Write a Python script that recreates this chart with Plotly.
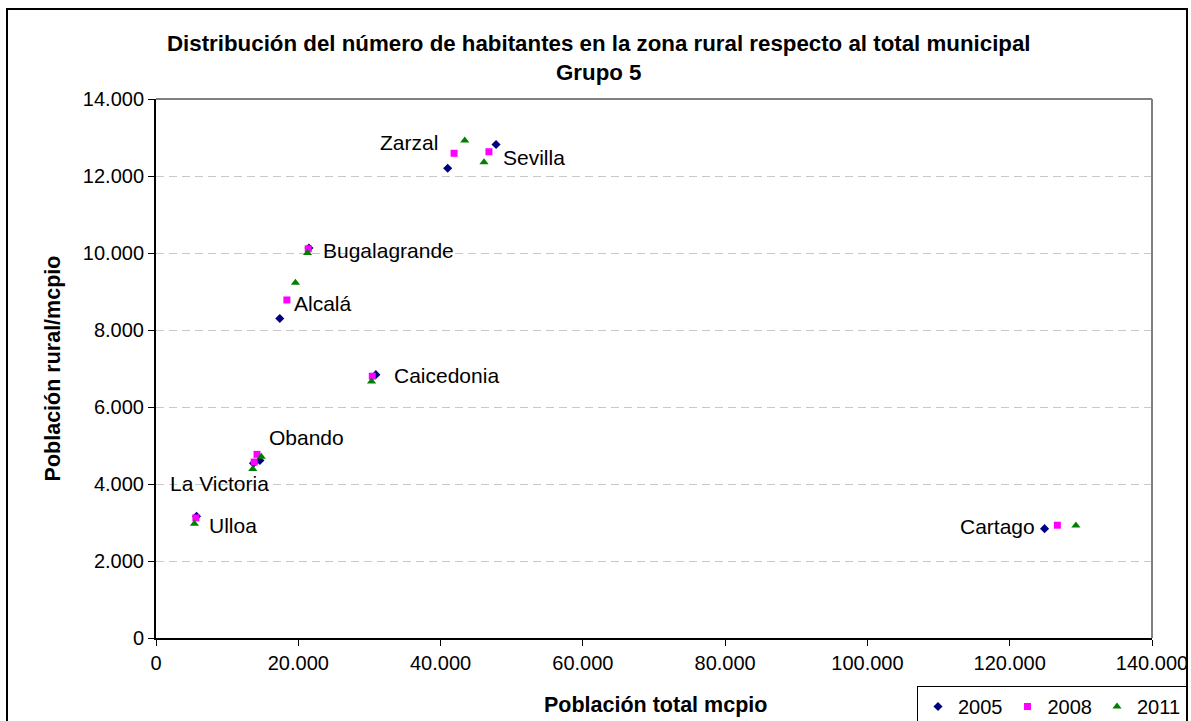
import plotly.graph_objects as go

# ---- data ----
municipios = ["Zarzal", "Sevilla", "Bugalagrande", "Alcalá", "Caicedonia",
              "Obando", "La Victoria", "Ulloa", "Cartago"]

total_2005 = [41000, 47800, 21500, 17400, 30900, 14600, 13700, 5700, 124900]
rural_2005 = [12200, 12820, 10130, 8300, 6840, 4610, 4540, 3160, 2840]

total_2008 = [41900, 46800, 21400, 18400, 30400, 14200, 13800, 5600, 126700]
rural_2008 = [12590, 12630, 10110, 8780, 6800, 4770, 4570, 3120, 2930]

total_2011 = [43400, 46100, 21300, 19600, 30300, 14800, 13600, 5400, 129300]
rural_2011 = [12920, 12360, 10000, 9230, 6660, 4710, 4390, 2970, 2920]

x_ticks = [0, 20000, 40000, 60000, 80000, 100000, 120000, 140000]
y_ticks = [0, 2000, 4000, 6000, 8000, 10000, 12000, 14000]

title_lines = ["Distribución del número de habitantes en la zona rural respecto al total municipal",
               "Grupo 5"]
x_title = "Población total mcpio"
y_title = "Población rural/mcpio"

# ---- styling ----
FONT = "Arial, 'Liberation Sans', sans-serif"
series_style = [
    ("2005", total_2005, rural_2005, "diamond", "#000080", 7),
    ("2008", total_2008, rural_2008, "square", "#FF00FF", 7),
    ("2011", total_2011, rural_2011, "triangle-up", "#008000", 8),
]
# label placement relative to the 2005 point of each municipio (pixels)
label_place = {
    "Zarzal": ("right", -8, 26),
    "Sevilla": ("left", 5, -13),
    "Bugalagrande": ("left", 12, -2),
    "Alcalá": ("left", 12, 15),
    "Caicedonia": ("left", 16, -1),
    "Obando": ("left", 7, 23),
    "La Victoria": ("right", 18, -20),
    "Ulloa": ("left", 10, -9),
    "Cartago": ("right", -8, 2),
}

fig = go.Figure()
for name, xs, ys, sym, col, size in series_style:
    fig.add_trace(go.Scatter(
        x=xs, y=ys, mode="markers", name=name,
        marker=dict(symbol=sym, color=col, size=size, line=dict(width=0)),
        hoverinfo="x+y",
    ))

W, H = 1191, 721
L, R, T, B = 156, 39, 99, 83
pw, ph = W - L - R, H - T - B

def px_x(p):
    return (p - L) / pw

def px_y(p):
    return (H - B - p) / ph

annotations = []
for i, m in enumerate(municipios):
    anchor, dx, dy = label_place[m]
    annotations.append(dict(
        x=total_2005[i], y=rural_2005[i], xref="x", yref="y",
        text=m, showarrow=False, xanchor=anchor, yanchor="middle",
        xshift=dx, yshift=dy, font=dict(family=FONT, size=21, color="black"),
    ))

# chart title (two centred bold lines)
annotations.append(dict(
    x=px_x(599), y=px_y(58.5), xref="paper", yref="paper",
    text="<br>".join("<b>" + t + "</b>" for t in title_lines),
    showarrow=False, xanchor="center", yanchor="middle", align="center",
    font=dict(family=FONT, size=22.3, color="black"),
))
# x-axis title
annotations.append(dict(
    x=px_x(655), y=px_y(705), xref="paper", yref="paper",
    text="<b>" + x_title + "</b>",
    showarrow=False, xanchor="center", yanchor="middle",
    font=dict(family=FONT, size=21.5, color="black"),
))

shapes = [
    # outer chart frame
    dict(type="rect", xref="paper", yref="paper",
         x0=px_x(7), x1=px_x(1187), y0=px_y(735), y1=px_y(9),
         line=dict(color="black", width=2), fillcolor="rgba(0,0,0,0)", layer="below"),
    # plot-area border top and right (gray)
    dict(type="line", xref="paper", yref="paper", x0=0, x1=1, y0=1, y1=1,
         line=dict(color="#808080", width=2)),
    dict(type="line", xref="paper", yref="paper", x0=1, x1=1, y0=0, y1=1,
         line=dict(color="#808080", width=2)),
]

fig.update_layout(
    width=W, height=H,
    margin=dict(l=L, r=R, t=T, b=B, pad=0, autoexpand=False),
    paper_bgcolor="white", plot_bgcolor="white",
    separators=",.",
    font=dict(family=FONT, size=20, color="black"),
    xaxis=dict(range=[0, 140000], tickvals=x_ticks, tickformat=",d",
               showgrid=False, zeroline=False, automargin=False,
               showline=True, linecolor="black", linewidth=2,
               ticks="outside", ticklen=6, tickcolor="black", tickwidth=1,
               tickfont=dict(family=FONT, size=20, color="black")),
    yaxis=dict(range=[0, 14000], tickvals=y_ticks, tickformat=",d",
               showgrid=True, gridcolor="#c8c8c8", griddash="8px,5px", gridwidth=1,
               zeroline=False, automargin=False,
               showline=True, linecolor="black", linewidth=2,
               ticks="outside", ticklen=6, tickcolor="black", tickwidth=1,
               tickfont=dict(family=FONT, size=20, color="black"),
               title=dict(text="<b>" + y_title + "</b>", standoff=16,
                          font=dict(family=FONT, size=21.5, color="black"))),
    legend=dict(orientation="h", xref="container", yref="container",
                x=1187 / W, y=1 - 686 / H,
                xanchor="right", yanchor="top",
                bordercolor="black", borderwidth=1, bgcolor="white",
                font=dict(family=FONT, size=20, color="black"),
                itemwidth=30, tracegroupgap=0),
    annotations=annotations,
    shapes=shapes,
    showlegend=True,
)

fig.write_html("out.html", config={"displayModeBar": False},
               post_script="document.body.style.margin='0';")
